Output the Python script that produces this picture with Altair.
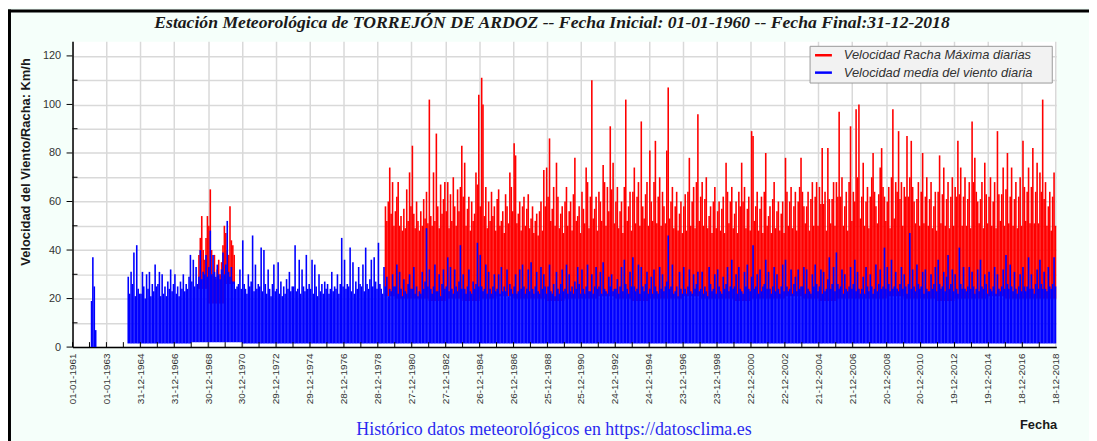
import altair as alt
import pandas as pd

N = None

# ---------------- texts ----------------
title_text = "Estación Meteorológica de TORREJÓN DE ARDOZ -- Fecha Inicial: 01-01-1960 -- Fecha Final:31-12-2018"
y_title = "Velocidad del Viento/Racha: Km/h"
x_title = "Fecha"
footer_text = "Histórico datos meteorológicos en https://datosclima.es"
series_names = ["Velocidad Racha Máxima diarias", "Velocidad media del viento diaria"]
series_colors = ["#FF0000", "#0000FF"]

# ---------------- axes ----------------
x_tick_labels = ["01-01-1961", "01-01-1963", "31-12-1964", "31-12-1966", "30-12-1968",
                 "30-12-1970", "29-12-1972", "29-12-1974", "28-12-1976", "28-12-1978",
                 "27-12-1980", "27-12-1982", "26-12-1984", "26-12-1986", "25-12-1988",
                 "25-12-1990", "24-12-1992", "24-12-1994", "23-12-1996", "23-12-1998",
                 "22-12-2000", "22-12-2002", "21-12-2004", "21-12-2006", "20-12-2008",
                 "20-12-2010", "19-12-2012", "19-12-2014", "18-12-2016", "18-12-2018"]
x_domain = [(1961, 1, 1), (2019, 1, 1)]
year_ticks = [f"{y}-01-01" for y in range(1961, 2019)]
y_domain = [0, 126]
y_grid_values = [0, 10, 20, 30, 40, 50, 60, 70, 80, 90, 100, 110, 120]
y_major_values = [0, 20, 40, 60, 80, 100, 120]
y_minor_values = [10, 30, 50, 70, 90, 110]

# ---------------- red: monthly maximum of the daily max gust (km/h), rows = years from 1968 ----------------
red_first_year = 1968
red_monthly = [
    [N, N, N, N, N, 38, 45, 54, 40, 36, 45, 54],        # 1968
    [50, 65, 40, 30, 38, 28, 32, 36, 30, 35, 42, 50],   # 1969
    [47, 40, 38, 58, 44, 42, 38, N, N, N, N, N],        # 1970
] + [[N] * 12] * 8 + [                                   # 1971-1978
    [N, N, N, N, N, 58, 52, 60, 74, 55, 68, 50],        # 1979
    [56, 62, 68, 50, 54, 48, 57, 49, 65, 52, 72, 58],   # 1980
    [83, 55, 49, 60, 52, 48, 56, 50, 61, 53, 64, 51],   # 1981
    [102, 54, 50, 72, 52, 88, 58, 49, 67, 55, 61, 68],  # 1982
    [56, 68, 49, 63, 52, 70, 58, 50, 65, 56, 66, 83],   # 1983
    [62, 76, 50, 57, 62, 48, 60, 52, 55, 72, 67, 104],  # 1984
    [58, 111, 100, 54, 66, 49, 60, 52, 64, 54, 58, 48], # 1985
    [61, 65, 50, 52, 56, 47, 63, 58, 51, 72, 66, 56],   # 1986
    [84, 79, 51, 55, 60, 48, 58, 62, 50, 57, 63, 49],   # 1987
    [53, 58, 47, 52, 55, 46, 56, 60, 48, 73, 58, 74],   # 1988
    [62, 86, 52, 57, 66, 50, 76, 62, 49, 55, 58, 47],   # 1989
    [60, 66, 50, 56, 60, 48, 63, 78, 52, 54, 58, 47],   # 1990
    [64, 57, 51, 74, 68, 49, 62, 110, 53, 57, 62, 48],  # 1991
    [64, 60, 52, 75, 68, 50, 66, 56, 91, 65, 76, 51],   # 1992
    [60, 66, 49, 56, 60, 47, 66, 102, 52, 58, 64, 48],  # 1993
    [64, 74, 51, 62, 68, 50, 93, 58, 53, 63, 68, 50],   # 1994
    [81, 60, 52, 68, 85, 51, 62, 70, 50, 64, 58, 51],   # 1995
    [81, 107, 53, 60, 66, 49, 58, 64, 48, 55, 60, 47],  # 1996
    [58, 63, 48, 64, 78, 50, 60, 66, 49, 68, 96, 52],   # 1997
    [62, 68, 50, 61, 70, 49, 54, 58, 47, 60, 66, 49],   # 1998
    [56, 60, 48, 57, 62, 47, 76, 64, 51, 60, 66, 49],   # 1999
    [55, 60, 47, 64, 58, 76, 60, 66, 49, 57, 62, 48],   # 2000
    [89, 87, 52, 58, 64, 48, 57, 62, 47, 64, 80, 50],   # 2001
    [54, 58, 47, 61, 68, 49, 56, 60, 48, 55, 60, 47],   # 2002
    [78, 64, 50, 60, 66, 49, 58, 64, 48, 60, 66, 78],   # 2003
    [64, 58, 51, 58, 64, 48, 61, 68, 50, 62, 68, 50],   # 2004
    [66, 59, 82, 59, 64, 48, 82, 61, 51, 61, 68, 50],   # 2005
    [68, 62, 97, 62, 70, 50, 58, 64, 48, 68, 91, 52],   # 2006
    [64, 60, 98, 70, 100, 53, 62, 76, 50, 60, 66, 49],  # 2007
    [62, 70, 80, 64, 58, 51, 63, 74, 82, 66, 62, 52],   # 2008
    [60, 66, 49, 70, 98, 53, 68, 64, 89, 61, 68, 50],   # 2009
    [66, 62, 87, 62, 70, 85, 66, 60, 51, 61, 68, 50],   # 2010
    [64, 80, 51, 62, 70, 50, 61, 68, 49, 58, 64, 48],   # 2011
    [64, 79, 51, 63, 74, 50, 61, 68, 49, 62, 70, 50],   # 2012
    [66, 62, 85, 63, 74, 50, 62, 70, 50, 61, 68, 49],   # 2013
    [93, 68, 78, 64, 60, 51, 61, 68, 49, 76, 63, 51],   # 2014
    [62, 70, 50, 60, 68, 49, 89, 63, 52, 63, 74, 50],   # 2015
    [65, 80, 51, 62, 74, 50, 61, 68, 49, 62, 70, 50],   # 2016
    [85, 66, 52, 64, 74, 51, 66, 82, 51, 64, 76, 51],   # 2017
    [72, 64, 102, 61, 68, 50, 58, 64, 48, 62, 72, 50],  # 2018
]
# yearly lower edge of the dense red band
red_yearly_low = [24, 18, 26] + [N] * 8 + [
    21, 20, 20, 19, 20, 19, 20, 21, 20, 20,
    19, 20, 20, 21, 20, 19, 20, 20, 21, 20,
    20, 19, 20, 20, 21, 20, 19, 20, 20, 20,
    21, 20, 20, 19, 20, 20, 21, 20, 20, 20]

# ---------------- blue: monthly maximum of the daily mean wind (km/h), rows = years from 1962 ----------------
blue_first_year = 1962
blue_monthly = [
    [N, 19, 37, 25, 7, N, N, N, N, N, N, N],            # 1962
    [N] * 12,                                           # 1963
    [N, N, N, 29, 22, 31, 26, 39, 21, 42, 24, 22],      # 1964
    [22, 31, 25, 20, 30, 24, 31, 21, 26, 23, 34, 25],   # 1965
    [26, 31, 21, 30, 22, 25, 21, 27, 24, 32, 23, 26],   # 1966
    [30, 22, 25, 21, 27, 24, 30, 23, 26, 24, 29, 38],   # 1967
    [27, 36, 25, 33, 26, 29, 40, 28, 31, 30, 38, 29],   # 1968
    [33, 48, 30, 38, 31, 29, 34, 30, 28, 32, 39, 30],   # 1969
    [34, 52, 31, 29, 33, 27, 27, 24, 25, 26, 32, 24],   # 1970
    [44, 26, 24, 22, 30, 25, 27, 46, 23, 34, 24, 26],   # 1971
    [25, 41, 23, 40, 26, 22, 32, 24, 21, 26, 34, 23],   # 1972
    [24, 35, 22, 27, 21, 25, 22, 28, 24, 31, 23, 25],   # 1973
    [25, 42, 23, 24, 36, 22, 32, 25, 23, 38, 24, 26],   # 1974
    [24, 36, 22, 34, 25, 21, 30, 23, 26, 22, 27, 24],   # 1975
    [26, 22, 24, 31, 23, 25, 24, 30, 22, 26, 45, 25],   # 1976
    [36, 24, 26, 25, 41, 23, 35, 22, 27, 24, 33, 26],   # 1977
    [25, 34, 23, 41, 26, 24, 28, 36, 25, 37, 27, 24],   # 1978
    [43, 26, 24, 22, 33, 25, 29, 21, 24, 23, 30, 25],   # 1979
    [25, 34, 22, 31, 24, 21, 28, 23, 22, 26, 30, 24],   # 1980
    [24, 33, 22, 25, 21, 23, 22, 31, 24, 27, 49, 25],   # 1981
    [32, 24, 22, 25, 34, 23, 23, 30, 21, 26, 32, 24],   # 1982
    [25, 37, 23, 33, 24, 22, 32, 25, 23, 27, 42, 24],   # 1983
    [30, 24, 22, 25, 32, 23, 22, 27, 24, 26, 43, 25],   # 1984
    [38, 25, 23, 24, 34, 22, 31, 24, 22, 25, 30, 23],   # 1985
    [24, 30, 22, 33, 23, 25, 23, 32, 21, 26, 24, 22],   # 1986
    [25, 30, 22, 23, 32, 24, 34, 25, 22, 24, 32, 23],   # 1987
    [35, 24, 22, 25, 31, 23, 22, 33, 24, 30, 25, 22],   # 1988
    [25, 34, 23, 22, 26, 21, 31, 24, 22, 26, 32, 23],   # 1989
    [24, 34, 22, 30, 23, 25, 22, 27, 24, 33, 26, 22],   # 1990
    [32, 24, 22, 25, 34, 23, 23, 30, 22, 25, 33, 24],   # 1991
    [25, 31, 22, 35, 24, 23, 22, 29, 25, 30, 23, 24],   # 1992
    [24, 28, 22, 25, 33, 23, 36, 26, 24, 22, 31, 25],   # 1993
    [37, 25, 23, 24, 34, 22, 33, 25, 23, 26, 31, 22],   # 1994
    [24, 29, 22, 32, 25, 23, 22, 33, 24, 30, 23, 25],   # 1995
    [27, 46, 24, 25, 34, 22, 23, 25, 21, 31, 24, 22],   # 1996
    [33, 24, 22, 25, 32, 23, 22, 30, 24, 26, 31, 23],   # 1997
    [24, 31, 22, 25, 23, 21, 33, 26, 23, 24, 30, 22],   # 1998
    [32, 25, 23, 22, 29, 24, 26, 33, 23, 25, 36, 24],   # 1999
    [25, 30, 22, 33, 24, 23, 22, 31, 25, 34, 24, 23],   # 2000
    [29, 42, 24, 25, 30, 22, 32, 23, 25, 26, 36, 24],   # 2001
    [31, 24, 22, 25, 33, 23, 30, 24, 22, 25, 34, 23],   # 2002
    [36, 25, 23, 24, 32, 22, 26, 29, 23, 32, 24, 25],   # 2003
    [25, 33, 22, 32, 24, 23, 22, 30, 25, 34, 26, 23],   # 2004
    [25, 32, 22, 31, 23, 24, 28, 37, 24, 26, 33, 23],   # 2005
    [39, 26, 24, 25, 32, 22, 30, 24, 23, 25, 33, 24],   # 2006
    [26, 36, 23, 31, 24, 22, 24, 29, 22, 33, 25, 23],   # 2007
    [30, 25, 22, 24, 34, 23, 26, 32, 24, 25, 41, 24],   # 2008
    [33, 26, 23, 36, 24, 25, 31, 24, 23, 26, 33, 24],   # 2009
    [30, 25, 22, 26, 47, 24, 32, 25, 23, 34, 26, 24],   # 2010
    [25, 31, 22, 32, 24, 23, 23, 30, 24, 26, 33, 23],   # 2011
    [36, 26, 24, 25, 31, 23, 29, 38, 24, 26, 32, 23],   # 2012
    [30, 24, 22, 41, 26, 24, 33, 24, 23, 25, 33, 24],   # 2013
    [31, 25, 22, 24, 32, 23, 36, 25, 24, 30, 26, 22],   # 2014
    [31, 24, 23, 25, 33, 22, 30, 24, 23, 25, 32, 24],   # 2015
    [38, 26, 24, 34, 25, 23, 31, 24, 22, 25, 30, 23],   # 2016
    [33, 25, 23, 25, 37, 24, 30, 24, 22, 26, 32, 24],   # 2017
    [36, 26, 24, 31, 24, 23, 33, 25, 24, 26, 37, 25],   # 2018
]
blue_yearly_low = [0, N] + [
    1.5, 1.5, 1.5, 1.5, 2, 2, 2, 1.5, 1.5, 1.5,
    1.5, 1.5, 1.5, 1.5, 1.5, 1.5, 1.5, 1.5, 1.5, 1.5,
    1.5, 1.5, 1.5, 1.5, 1.5, 1.5, 1.5, 1.5, 1.5, 1.5,
    1.5, 1.5, 1.5, 1.5, 1.5, 1.5, 1.5, 1.5, 1.5, 1.5,
    1.5, 1.5, 1.5, 1.5, 1.5, 1.5, 1.5, 1.5, 1.5, 1.5,
    1.5, 1.5, 1.5, 1.5, 1.5]


def monthly(first_year, rows, lows, name):
    recs = []
    for yi, row in enumerate(rows):
        for m, v in enumerate(row):
            if v is None:
                continue
            recs.append({"serie": name, "t": f"{first_year + yi}-{m + 1:02d}-15",
                         "lo": lows[yi], "hi": v})
    return pd.DataFrame(recs)


red_df = monthly(red_first_year, red_monthly, red_yearly_low, series_names[0])
blue_df = monthly(blue_first_year, blue_monthly, blue_yearly_low, series_names[1])


def dt(y, m, d):
    return alt.DateTime(year=y, month=m, date=d, utc=True)


tick_dates = [dt(int(s[6:]), int(s[3:5]), int(s[:2])) for s in x_tick_labels]

FONT = "Liberation Sans"
GRID = "#D9D9D9"

xs = alt.Scale(type="utc", domain=[dt(*x_domain[0]), dt(*x_domain[1])], nice=False)
ys = alt.Scale(domain=y_domain, nice=False, zero=True)
cs = alt.Scale(domain=series_names, range=series_colors)

x_axis = alt.Axis(values=tick_dates, labelExpr="utcFormat(datum.value, '%d-%m-%Y')",
                  labelAngle=270, labelFont=FONT, labelFontSize=10, labelColor="#333333",
                  labelPadding=6, ticks=False, tickSize=0, labelOverlap=False, labelFlush=False,
                  domainColor="#000000", domainWidth=1.5, grid=True, gridColor=GRID, gridWidth=1.5,
                  title=None)
y_axis = alt.Axis(values=y_grid_values, labelExpr="datum.value % 20 == 0 ? datum.label : ''",
                  labelFont=FONT, labelFontSize=11, labelColor="#333333", labelPadding=12,
                  ticks=False, tickSize=0, domainColor="#000000", domainWidth=1.5,
                  grid=True, gridColor=GRID, gridWidth=1.5,
                  title=y_title, titleAngle=270, titleX=-47, titleY=121, titleAlign="center",
                  titleBaseline="middle", titleFont=FONT, titleFontSize=13, titleFontWeight="bold",
                  titleColor="#1A1A1A")


def X(field):
    return alt.X(f"{field}:T", scale=xs, axis=x_axis)


def Y(field):
    return alt.Y(f"{field}:Q", scale=ys, axis=y_axis)


color = alt.Color("serie:N", scale=cs, legend=None)

red_lines = alt.Chart(red_df).mark_rule(strokeWidth=1.6).encode(
    x=X("t"), y=Y("lo"), y2=alt.Y2("hi"), color=color)
blue_lines = alt.Chart(blue_df).mark_rule(strokeWidth=1.6).encode(
    x=X("t"), y=Y("lo"), y2=alt.Y2("hi"), color=color)

# axis tick marks (years inward on x, majors outward / minors inward on y)
xtick = alt.Chart(pd.DataFrame({"t": year_ticks})).mark_rule(color="#000000", strokeWidth=1).encode(
    x=X("t"), y=alt.value(308), y2=alt.value(303))
ymaj = alt.Chart(pd.DataFrame({"v": y_major_values})).mark_rule(color="#000000", strokeWidth=1).encode(
    y=Y("v"), x=alt.value(-6), x2=alt.value(0))
ymin = alt.Chart(pd.DataFrame({"v": y_minor_values})).mark_rule(color="#000000", strokeWidth=1).encode(
    y=Y("v"), x=alt.value(0), x2=alt.value(5))

one = pd.DataFrame({"a": [0]})


def label(text, x, y, **kw):
    return alt.Chart(one).mark_text(text=text, **kw).encode(x=alt.value(x), y=alt.value(y))


title_lbl = label(title_text, 483, -13, font="Liberation Serif", fontSize=17.8, fontStyle="italic",
                  fontWeight="bold", align="center", baseline="alphabetic", color="#1A1A1A")
footer_lbl = label(footer_text, 485, 397, font="Liberation Serif", fontSize=18,
                   align="center", baseline="alphabetic", color="#2A2AF0")
fecha_lbl = label(x_title, 992, 391, font=FONT, fontSize=13, fontWeight="bold",
                  align="right", baseline="alphabetic", color="#1A1A1A")

# legend box (drawn by hand)
leg_box = alt.Chart(one).mark_rect(fill="#F2F2F2", stroke="#9A9A9A", strokeWidth=1).encode(
    x=alt.value(743), x2=alt.value(987), y=alt.value(5), y2=alt.value(42))
leg_layers = [leg_box]
for i, (nm, col) in enumerate(zip(series_names, series_colors)):
    yy = 14 + 17.5 * i
    leg_layers.append(alt.Chart(one).mark_rule(color=col, strokeWidth=2.5).encode(
        x=alt.value(748), x2=alt.value(765), y=alt.value(yy)))
    leg_layers.append(label(nm, 777, yy, font=FONT, fontSize=13, fontStyle="italic",
                            align="left", baseline="middle", color="#333333"))

frame_left = alt.Chart(one).mark_rule(color="#000000", strokeWidth=3).encode(
    x=alt.value(-63.5), y=alt.value(-32), y2=alt.value(410))
frame_top = alt.Chart(one).mark_rule(color="#000000", strokeWidth=3).encode(
    x=alt.value(-65), x2=alt.value(1030), y=alt.value(-30.5))

chart = alt.layer(
    red_lines, blue_lines, xtick, ymaj, ymin, *leg_layers,
    title_lbl, footer_lbl, fecha_lbl, frame_left, frame_top
).properties(
    width=991, height=308,
    autosize=alt.AutoSizeParams(type="none"),
    padding={"left": 65, "top": 32, "right": 33, "bottom": 93},
    background="#F5FFFA",
).configure_view(fill="white", stroke="transparent")

chart.save("out.html", embed_options={"renderer": "svg", "actions": False})
